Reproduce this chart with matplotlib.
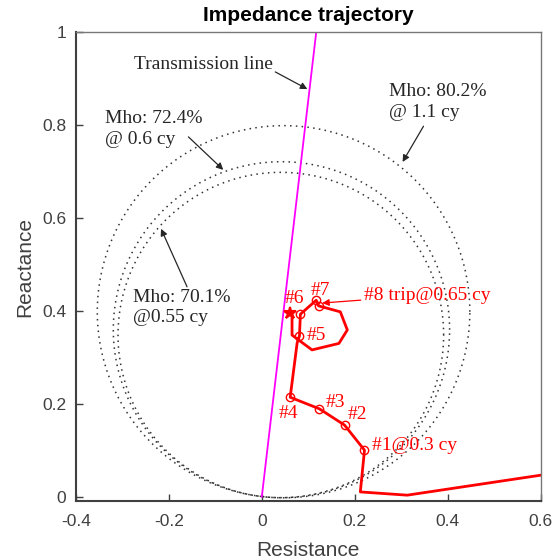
import numpy as np
import matplotlib.pyplot as plt

# trajectory (resistance, reactance)
traj_r = [0.600, 0.313, 0.212, 0.221, 0.178, 0.124, 0.061, 0.076, 0.081, 0.083,
          0.117, 0.122, 0.169, 0.184, 0.166, 0.108, 0.065, 0.065, 0.060]
traj_x = [0.046, 0.003, 0.010, 0.100, 0.154, 0.189, 0.214, 0.331, 0.346, 0.393,
          0.423, 0.411, 0.398, 0.359, 0.330, 0.316, 0.348, 0.391, 0.395]
# indices of the marked cycles #1..#8
mark_idx = [3, 4, 5, 6, 8, 9, 10, 11]

# mho reaches and line angle
mho_reach = [0.802, 0.724, 0.701]
line_angle = 83.3  # deg
line_end = (0.117, 1.0)

sans = ['Liberation Sans', 'DejaVu Sans']
serif = ['Liberation Serif', 'DejaVu Serif']
gray = '#404040'
txtc = '#262626'

fig = plt.figure(figsize=(5.59, 5.6), dpi=100)
ax = fig.add_axes([0.136, 0.105, 0.831, 0.837])

# mho circles
t = np.linspace(0, 2*np.pi, 400)
th = np.deg2rad(line_angle)
for r in mho_reach:
    cx, cy = r/2*np.cos(th), r/2*np.sin(th)
    ax.plot(cx + r/2*np.cos(t), cy + r/2*np.sin(t), color='#333333', lw=1.1,
            linestyle=(0, (1, 2.8)))

# transmission line
ax.plot([0, line_end[0]], [0, line_end[1]], color='#ff00ff', lw=1.3)

# trajectory
ax.plot(traj_r, traj_x, color='red', lw=2)
ax.plot([traj_r[i] for i in mark_idx], [traj_x[i] for i in mark_idx], 'o',
        mfc='none', mec='red', ms=6, mew=1)
ax.plot(traj_r[-1], traj_x[-1], '*', color='red', ms=9, mew=1.5)

# red labels
fs = 14
ax.text(0.238, 0.111, '#1@0.3 cy', color='red', family=serif, fontsize=fs, va='center')
ax.text(0.206, 0.176, '#2', color='red', family=serif, fontsize=fs, ha='center', va='center')
ax.text(0.158, 0.202, '#3', color='red', family=serif, fontsize=fs, ha='center', va='center')
ax.text(0.057, 0.178, '#4', color='red', family=serif, fontsize=fs, ha='center', va='center')
ax.text(0.117, 0.348, '#5', color='red', family=serif, fontsize=fs, ha='center', va='center')
ax.text(0.070, 0.426, '#6', color='red', family=serif, fontsize=fs, ha='center', va='center')
ax.text(0.126, 0.445, '#7', color='red', family=serif, fontsize=fs, ha='center', va='center')

ap = dict(arrowstyle='-|>', lw=0.9, mutation_scale=10, shrinkA=0, shrinkB=0)
ax.annotate('#8 trip@0.65 cy', xy=(0.130, 0.417), xytext=(0.219, 0.434),
            color='red', family=serif, fontsize=fs, va='center',
            arrowprops=dict(ap, color='red'))

ax.annotate('', xy=(0.098, 0.878), xytext=(0.029, 0.915), arrowprops=dict(ap, color=txtc))
ax.text(-0.126, 0.930, 'Transmission line', color=txtc, family=serif, fontsize=fs,
        ha='center', va='center')

ax.annotate('', xy=(0.303, 0.721), xytext=(0.348, 0.798), arrowprops=dict(ap, color=txtc))
ax.text(0.273, 0.850, 'Mho: 80.2%\n@ 1.1 cy', color=txtc, family=serif, fontsize=fs,
        va='center', linespacing=1.25)

ax.annotate('', xy=(-0.083, 0.704), xytext=(-0.158, 0.775), arrowprops=dict(ap, color=txtc))
ax.text(-0.337, 0.792, 'Mho: 72.4%\n@ 0.6 cy', color=txtc, family=serif, fontsize=fs,
        va='center', linespacing=1.25)

ax.annotate('', xy=(-0.217, 0.577), xytext=(-0.161, 0.452), arrowprops=dict(ap, color=txtc))
ax.text(-0.277, 0.407, 'Mho: 70.1%\n@0.55 cy', color=txtc, family=serif, fontsize=fs,
        va='center', linespacing=1.25)

ax.set_xlim(-0.4, 0.6)
ax.set_ylim(-0.01, 1)
ax.set_xticks([-0.4, -0.2, 0, 0.2, 0.4, 0.6])
ax.set_yticks([0, 0.2, 0.4, 0.6, 0.8, 1])
ax.set_xticklabels(['-0.4', '-0.2', '0', '0.2', '0.4', '0.6'])
ax.set_yticklabels(['0', '0.2', '0.4', '0.6', '0.8', '1'])
ax.tick_params(direction='in', length=5, colors=gray, labelsize=12.5, width=1,
               top=False, right=False)
ax.tick_params(axis='x', pad=9)
ax.tick_params(axis='y', pad=7)
for lab in ax.get_xticklabels() + ax.get_yticklabels():
    lab.set_family(sans)
for s in ax.spines.values():
    s.set_color(gray)
    s.set_linewidth(1)
ax.spines['left'].set_linewidth(1.5)
ax.spines['bottom'].set_linewidth(1.5)
ax.spines['top'].set_color('#777777')
ax.spines['right'].set_color('#777777')

ax.set_xlabel('Resistance', family=sans, fontsize=15, color=gray, labelpad=9)
ax.set_ylabel('Reactance', family=sans, fontsize=15, color=gray, labelpad=6)
ax.set_title('Impedance trajectory', family=sans, fontsize=15, fontweight='bold', pad=8)

fig.savefig('out.png', dpi=100)
